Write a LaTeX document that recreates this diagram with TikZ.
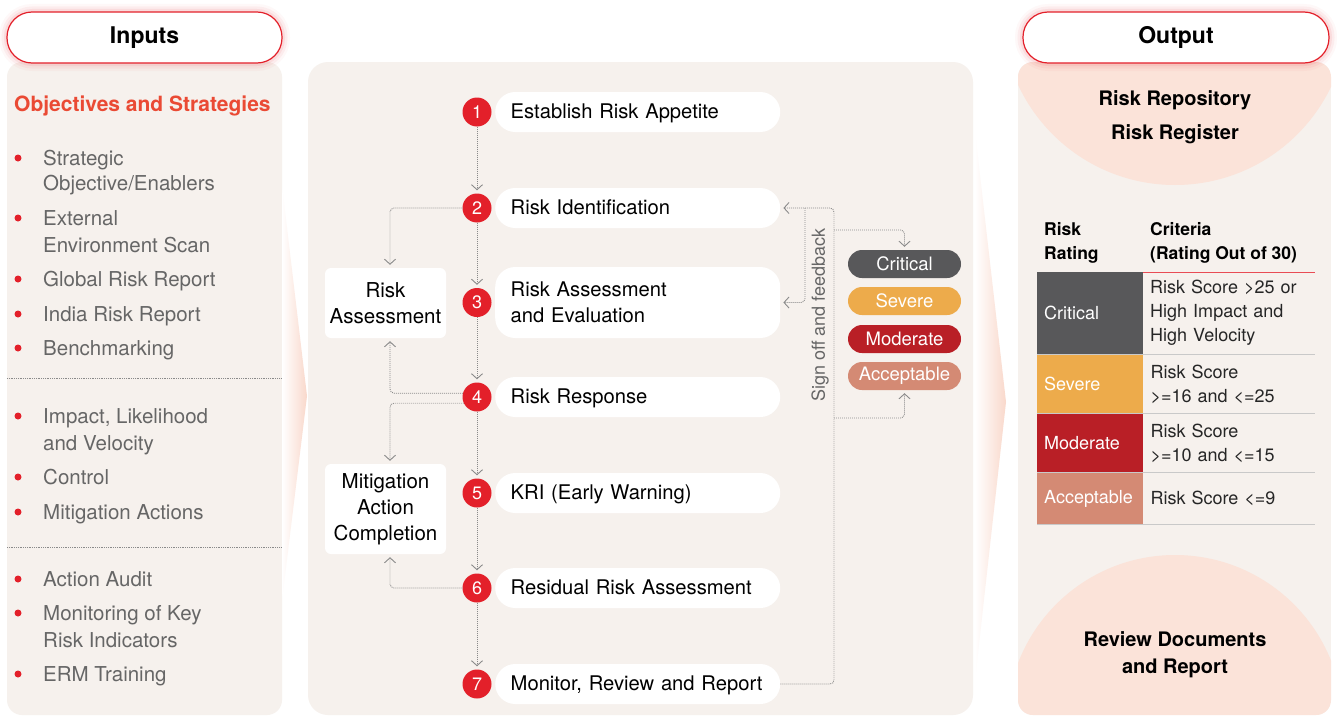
\documentclass[tikz,border=0pt]{standalone}
\usepackage{fontspec}
\setmainfont{TeX Gyre Heros}
\usetikzlibrary{arrows.meta,positioning}

\definecolor{panelbg}{HTML}{F6F1ED}
\definecolor{stepred}{HTML}{E3202A}
\definecolor{objred}{HTML}{EA4A34}
\definecolor{itemgray}{HTML}{666666}
\definecolor{linegray}{HTML}{8A8A8A}
\definecolor{critgray}{HTML}{58585A}
\definecolor{severeor}{HTML}{EDAB4B}
\definecolor{moderred}{HTML}{B91F26}
\definecolor{accpink}{HTML}{D48A74}
\definecolor{arcpink}{HTML}{FBE3D9}
\definecolor{chevpink}{HTML}{F9D8CB}
\definecolor{rulegray}{HTML}{C9C9C9}

\newcommand{\setfs}[2]{\fontsize{#1}{#2}\selectfont}

\begin{document}
\begin{tikzpicture}[x=1pt,y=-1pt,
  header/.style={draw=stepred, line width=1.2pt, fill=white, rounded corners=25pt,
    minimum height=51pt, font=\setfs{23}{28}\bfseries},
  num/.style={circle, fill=stepred, text=white, minimum size=29pt, inner sep=0pt,
    font=\setfs{18}{20}},
  stepbox/.style={anchor=west, fill=white, rounded corners=20pt, minimum height=40pt,
    text width=254pt, inner xsep=15.5pt, align=left, font=\setfs{20.2}{26},
    text height=14.5pt, text depth=1pt},
  sidebox/.style={fill=white, rounded corners=6pt, minimum width=121pt, align=center,
    font=\setfs{20.5}{26}},
  flow/.style={linegray, line width=0.9pt, dash pattern=on 0.9pt off 1.1pt,
    rounded corners=4pt, -{Straight Barb[length=5pt,width=11pt]}, shorten >=3pt},
  badge/.style={rounded corners=14pt, minimum width=113pt, minimum height=28pt,
    text=white, font=\setfs{18.5}{20}, inner sep=0pt},
  bullet/.style={circle, fill=stepred, inner sep=0pt, minimum size=7pt},
  item/.style={anchor=west, inner sep=0pt, text=itemgray, font=\setfs{20.5}{26},
    text height=14.7pt, text depth=0pt},
  outtxt/.style={align=center, font=\setfs{20}{34}\bfseries},
  thead/.style={anchor=west, align=left, inner sep=0pt, font=\setfs{17.5}{24}\bfseries},
  ratecell/.style={anchor=north west, minimum width=106pt, text width=92pt,
    inner xsep=7pt, align=left, text=white, font=\setfs{18}{24}},
  critcell/.style={anchor=north west, text width=158pt, inner xsep=7pt, align=left,
    text=black!85, font=\setfs{18}{24}}]

  \useasboundingbox (0,0) rectangle (1337,717);
  \fill[white] (0,0) rectangle (1337,717);

  % panels
  \fill[panelbg, rounded corners=15pt] (7,62) rectangle (282,715);
  \fill[panelbg, rounded corners=20pt] (308,62) rectangle (973,715);
  \begin{scope}
    \clip[rounded corners=15pt] (1018,62) rectangle (1331,715);
    \fill[panelbg] (1018,62) rectangle (1331,715);
    \fill[arcpink] (1175,12) circle[radius=173pt];
    \fill[arcpink] (1175,723) circle[radius=168pt];
  \end{scope}

  % chevrons between panels
  \shade[left color=white, right color=chevpink] (282,186) -- (307,396) -- (282,600) -- cycle;
  \shade[left color=white, right color=chevpink] (975,132) -- (1006,402) -- (975,680) -- cycle;

  % headers
  \foreach \w/\o in {16/0.03,11/0.05,6/0.08} {
    \draw[stepred, line width=\w pt, opacity=\o, rounded corners=25pt] (7,12) rectangle (282,63);
    \draw[stepred, line width=\w pt, opacity=\o, rounded corners=25pt] (1023,12) rectangle (1329,63);
  }
  \node[header, minimum width=275pt] (inputs) at (144.5,37.5) {Inputs};
  \node[header, minimum width=306pt] (output) at (1176,37.5) {Output};

  % inputs list
  \node[anchor=west, inner sep=0pt, text=objred, font=\setfs{21}{26}\bfseries,
    text height=15pt, text depth=0pt] (obj) at (14,104) {Objectives and Strategies};
  \foreach \y [count=\i] in {158,218,279,314,348,416,477,512,579,613,674}
    \node[bullet] (dot\i) at (18,\y) {};
  \foreach \y/\t [count=\i] in {158/{Strategic},183/{Objective/Enablers},
      218/{External},245/{Environment Scan},279/{Global Risk Report},
      314/{India Risk Report},348/{Benchmarking},416/{Impact, Likelihood},
      443/{and Velocity},477/{Control},512/{Mitigation Actions},
      579/{Action Audit},613/{Monitoring of Key},640/{Risk Indicators},
      674/{ERM Training}}
    \node[item] (in\i) at (43,\y) {\t};
  \draw[linegray, line width=0.8pt, dash pattern=on 0.8pt off 1pt] (7,378) -- (282,378);
  \draw[linegray, line width=0.8pt, dash pattern=on 0.8pt off 1pt] (7,547) -- (282,547);

  % process steps
  \foreach \n/\y in {1/112,2/208,3/302.5,4/397,5/493,6/588,7/684}
    \node[num] (s\n) at (477,\y) {\n};
  \node[stepbox] (p1) at (495,112) {Establish Risk Appetite};
  \node[stepbox] (p2) at (495,208) {Risk Identification};
  \node[stepbox, minimum height=71pt, text height=, text depth=] (p3) at (495,302.5) {Risk Assessment\\and Evaluation};
  \node[stepbox] (p4) at (495,397) {Risk Response};
  \node[stepbox] (p5) at (495,493) {KRI (Early Warning)};
  \node[stepbox] (p6) at (495,588) {Residual Risk Assessment};
  \node[stepbox] (p7) at (495,684) {Monitor, Review and Report};

  \node[sidebox, minimum height=70pt] (ra) at (385.5,303) {Risk\\Assessment};
  \node[sidebox, minimum height=90pt] (mac) at (385.5,509) {Mitigation\\Action\\Completion};

  \foreach \a/\b in {1/2,2/3,3/4,4/5,5/6,6/7}
    \draw[flow] (s\a) -- (s\b);
  \draw[flow] (s2.west) -| ([xshift=4.5pt]ra.north);
  \draw[flow] (s4.165) -| ([xshift=4.5pt]ra.south);
  \draw[flow] (s4.205) -| ([xshift=4.5pt]mac.north);
  \draw[flow] (s6.west) -| ([xshift=4.5pt]mac.south);

  % ratings
  \node[badge, fill=critgray] (crit) at (904.5,264) {Critical};
  \node[badge, fill=severeor] (sev) at (904.5,301) {Severe};
  \node[badge, fill=moderred] (mod) at (904.5,339) {Moderate};
  \node[badge, fill=accpink] (acc) at (904.5,376) {Acceptable};

  % sign off and feedback
  \coordinate (fbtop) at (834,208);
  \coordinate (fbmid) at (805,208);
  \coordinate (fbcrit) at (834,230);
  \coordinate (fbacc) at (834,418);
  \draw[flow] (p7.east) -| (fbtop) -- (p2.east);
  \draw[flow] (fbmid) |- (p3.east);
  \draw[flow] (fbcrit) -| (crit.north);
  \draw[flow] (fbacc) -| (acc.south);
  \node[rotate=90, text=itemgray, font=\setfs{18}{20}, inner sep=1pt]
    (sign) at (820,315) {Sign off and feedback};

  % outputs
  \node[outtxt] (repo) at (1175,117) {Risk Repository\\Risk Register};
  \node[outtxt, font=\setfs{20}{27}\bfseries] (review) at (1175,654.5) {Review Documents\\and Report};

  \node[thead] (th1) at (1044,243) {Risk\\Rating};
  \node[thead] (th2) at (1150,243) {Criteria\\(Rating Out of 30)};
  \draw[stepred!80, line width=1pt] (1037,272) -- (1315,272);

  \node[ratecell, fill=critgray, minimum height=82pt] (rc1) at (1037,272) {Critical};
  \node[critcell, minimum height=82pt] (cc1) at (1143,272) {Risk Score >25 or\\High Impact and\\High Velocity};
  \node[ratecell, fill=severeor, minimum height=59pt] (rc2) at (rc1.south west) {Severe};
  \node[critcell, minimum height=59pt] (cc2) at (rc2.north east) {Risk Score\\>=16 and <=25};
  \node[ratecell, fill=moderred, minimum height=58pt] (rc3) at (rc2.south west) {Moderate};
  \node[critcell, minimum height=58pt] (cc3) at (rc3.north east) {Risk Score\\>=10 and <=15};
  \node[ratecell, fill=accpink, minimum height=52pt] (rc4) at (rc3.south west) {Acceptable};
  \node[critcell, minimum height=52pt] (cc4) at (rc4.north east) {Risk Score <=9};
  \foreach \r in {1,2,3,4}
    \draw[rulegray, line width=1.2pt] (rc\r.south west) -- (rc\r.south west -| 1315,0);
\end{tikzpicture}
\end{document}
